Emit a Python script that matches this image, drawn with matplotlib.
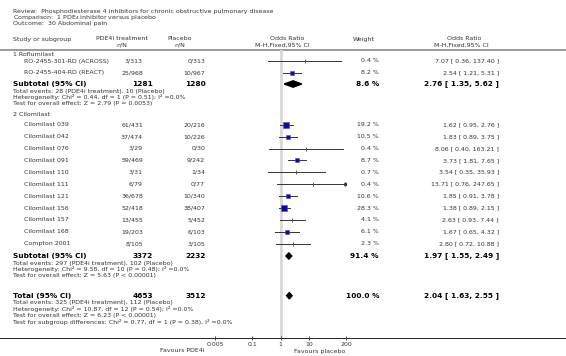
import matplotlib
matplotlib.use("Agg")
import matplotlib.pyplot as plt
import numpy as np

plt.rcParams['font.family'] = ['DejaVu Sans']

# 1 Roflumilast
rof_names = ["RO-2455-301-RD (ACROSS)", "RO-2455-404-RD (REACT)"]
rof_pde = ["3/313", "25/968"]
rof_plc = ["0/313", "10/967"]
rof_weight = [0.4, 8.2]
rof_or = [7.07, 2.54]
rof_lo = [0.36, 1.21]
rof_hi = [137.40, 5.31]

# 2 Cilomilast
cil_names = ["Cilomilast 039", "Cilomilast 042", "Cilomilast 076", "Cilomilast 091",
             "Cilomilast 110", "Cilomilast 111", "Cilomilast 121", "Cilomilast 156",
             "Cilomilast 157", "Cilomilast 168", "Compton 2001"]
cil_pde = ["61/431", "37/474", "3/29", "59/469", "3/31", "6/79", "36/678", "52/418",
           "13/455", "19/203", "8/105"]
cil_plc = ["20/216", "10/226", "0/30", "9/242", "1/34", "0/77", "10/340", "38/407",
           "5/452", "6/103", "3/105"]
cil_weight = [19.2, 10.5, 0.4, 8.7, 0.7, 0.4, 10.6, 28.3, 4.1, 6.1, 2.3]
cil_or = [1.62, 1.83, 8.06, 3.73, 3.54, 13.71, 1.85, 1.38, 2.63, 1.67, 2.80]
cil_lo = [0.95, 0.89, 0.40, 1.81, 0.35, 0.76, 0.91, 0.89, 0.93, 0.65, 0.72]
cil_hi = [2.76, 3.75, 163.21, 7.65, 35.93, 247.65, 3.78, 2.15, 7.44, 4.32, 10.88]

# pooled rows: subtotal 1, subtotal 2, total
pool_labels = ["Subtotal (95% CI)", "Subtotal (95% CI)", "Total (95% CI)"]
pool_pde = [1281, 3372, 4653]
pool_plc = [1280, 2232, 3512]
pool_weight = [8.6, 91.4, 100.0]
pool_or = [2.76, 1.97, 2.04]
pool_lo = [1.35, 1.55, 1.63]
pool_hi = [5.62, 2.49, 2.55]
pool_notes = [
    ["Total events: 28 (PDE4i treatment), 10 (Placebo)",
     "Heterogeneity: Chi² = 0.44, df = 1 (P = 0.51); I² =0.0%",
     "Test for overall effect: Z = 2.79 (P = 0.0053)"],
    ["Total events: 297 (PDE4i treatment), 102 (Placebo)",
     "Heterogeneity: Chi² = 9.58, df = 10 (P = 0.48); I² =0.0%",
     "Test for overall effect: Z = 5.63 (P < 0.00001)"],
    ["Total events: 325 (PDE4i treatment), 112 (Placebo)",
     "Heterogeneity: Chi² = 10.87, df = 12 (P = 0.54); I² =0.0%",
     "Test for overall effect: Z = 6.23 (P < 0.00001)",
     "Test for subgroup differences: Chi² = 0.77, df = 1 (P = 0.38), I² =0.0%"],
]

ticks = [0.005, 0.1, 1, 10, 200]
tick_labels = ["0.005", "0.1", "1", "10", "200"]

W, H = 566, 356
fig = plt.figure(figsize=(W / 100, H / 100), dpi=100)
tx = fig.add_axes([0, 0, 1, 1])
tx.set_xlim(0, W)
tx.set_ylim(H, 0)
tx.axis('off')

# forest panel in pixel rows
px0, px1, py0, py1 = 215, 346, 50, 338
fx = fig.add_axes([px0 / W, (H - py1) / H, (px1 - px0) / W, (py1 - py0) / H])
fx.set_xscale('log')
fx.set_xlim(0.005, 200)
fx.set_ylim(py1, py0)
for s in fx.spines.values():
    s.set_visible(False)
fx.patch.set_alpha(0)
fx.set_yticks([])
fx.set_xticks(ticks)
fx.set_xticklabels(tick_labels)
fx.minorticks_off()
fx.tick_params(axis='x', labelsize=4.5, length=3, width=0.6, pad=1.5,
               direction='inout', colors='#333333')

fs = 4.5
fb = 5.3
tc = '#333333'


def t(x, y, s, ha='left', bold=False, size=None):
    tx.text(x, y, s, ha=ha, va='center', color='black' if bold else tc,
            fontsize=size or (fb if bold else fs),
            fontweight='bold' if bold else 'normal')


# header
t(13, 11, "Review:  Phosphodiesterase 4 inhibitors for chronic obstructive pulmonary disease")
t(13, 17.5, "Comparison:  1 PDE$_4$ inhibitor versus placebo")
t(13, 24, "Outcome:  30 Abdominal pain")
t(13, 39, "Study or subgroup")
t(122, 39, "PDE4i treatment", ha='center')
t(122, 45, "n/N", ha='center')
t(180, 39, "Placebo", ha='center')
t(180, 45, "n/N", ha='center')
t(287, 39, "Odds Ratio", ha='center')
t(282, 45, "M-H,Fixed,95% CI", ha='center')
t(364, 39, "Weight", ha='center')
t(464, 39, "Odds Ratio", ha='center')
t(461, 45, "M-H,Fixed,95% CI", ha='center')
tx.plot([0, W], [49.5, 49.5], color='#9a9a9a', lw=1.4)
tx.plot([0, W], [338, 338], color='#222222', lw=0.7)

# null line
fx.plot([1, 1], [py0, py1], color='#d8d8d8', lw=2, zorder=0)


def study(y, name, pde, plc, w, est, lo, hi):
    t(24, y, name)
    t(143, y, pde, ha='right')
    t(205, y, plc, ha='right')
    t(379, y, "%.1f %%" % w, ha='right')
    t(499, y, "%.2f [ %.2f, %.2f ]" % (est, lo, hi), ha='right')
    top = min(hi, 200)
    fx.plot([lo, top], [y, y], color='#333333', lw=0.7, zorder=2)
    if hi > 200:
        fx.plot([200], [y], marker='>', ms=2.2, color='#333333', zorder=2)
    if w < 5:
        fx.plot([est], [y], marker='|', ms=2.6, mew=0.7, color='#555555', zorder=3)
    else:
        side = 1.3 * np.sqrt(w) * 0.72
        fx.plot([est], [y], marker='s', ms=side, mfc='#0a0a9e', mec='#4a4ad8',
                mew=0.4, zorder=3)


def pooled(y, k):
    t(13, y, pool_labels[k], bold=True)
    t(153, y, str(pool_pde[k]), ha='right', bold=True)
    t(206, y, str(pool_plc[k]), ha='right', bold=True)
    t(379, y, "%.1f %%" % pool_weight[k], ha='right', bold=True)
    t(499, y, "%.2f [ %.2f, %.2f ]" % (pool_or[k], pool_lo[k], pool_hi[k]),
      ha='right', bold=True)
    h = 3.2
    fx.fill([pool_lo[k], pool_or[k], pool_hi[k], pool_or[k]],
            [y, y - h, y, y + h], color='black', zorder=3)
    for i, line in enumerate(pool_notes[k]):
        t(13, y + 7 + 6.5 * i, line)


t(13, 55, "1 Roflumilast")
for i in range(len(rof_names)):
    study(61 + 11.7 * i, rof_names[i], rof_pde[i], rof_plc[i], rof_weight[i],
          rof_or[i], rof_lo[i], rof_hi[i])
pooled(84, 0)

t(13, 115, "2 Cilomilast")
for i in range(len(cil_names)):
    study(124.7 + 11.9 * i, cil_names[i], cil_pde[i], cil_plc[i], cil_weight[i],
          cil_or[i], cil_lo[i], cil_hi[i])
pooled(256, 1)
pooled(295.7, 2)

t(204, 351, "Favours PDE4i", ha='right')
t(294, 351, "Favours placebo")

fig.savefig("out.png", dpi=100)
